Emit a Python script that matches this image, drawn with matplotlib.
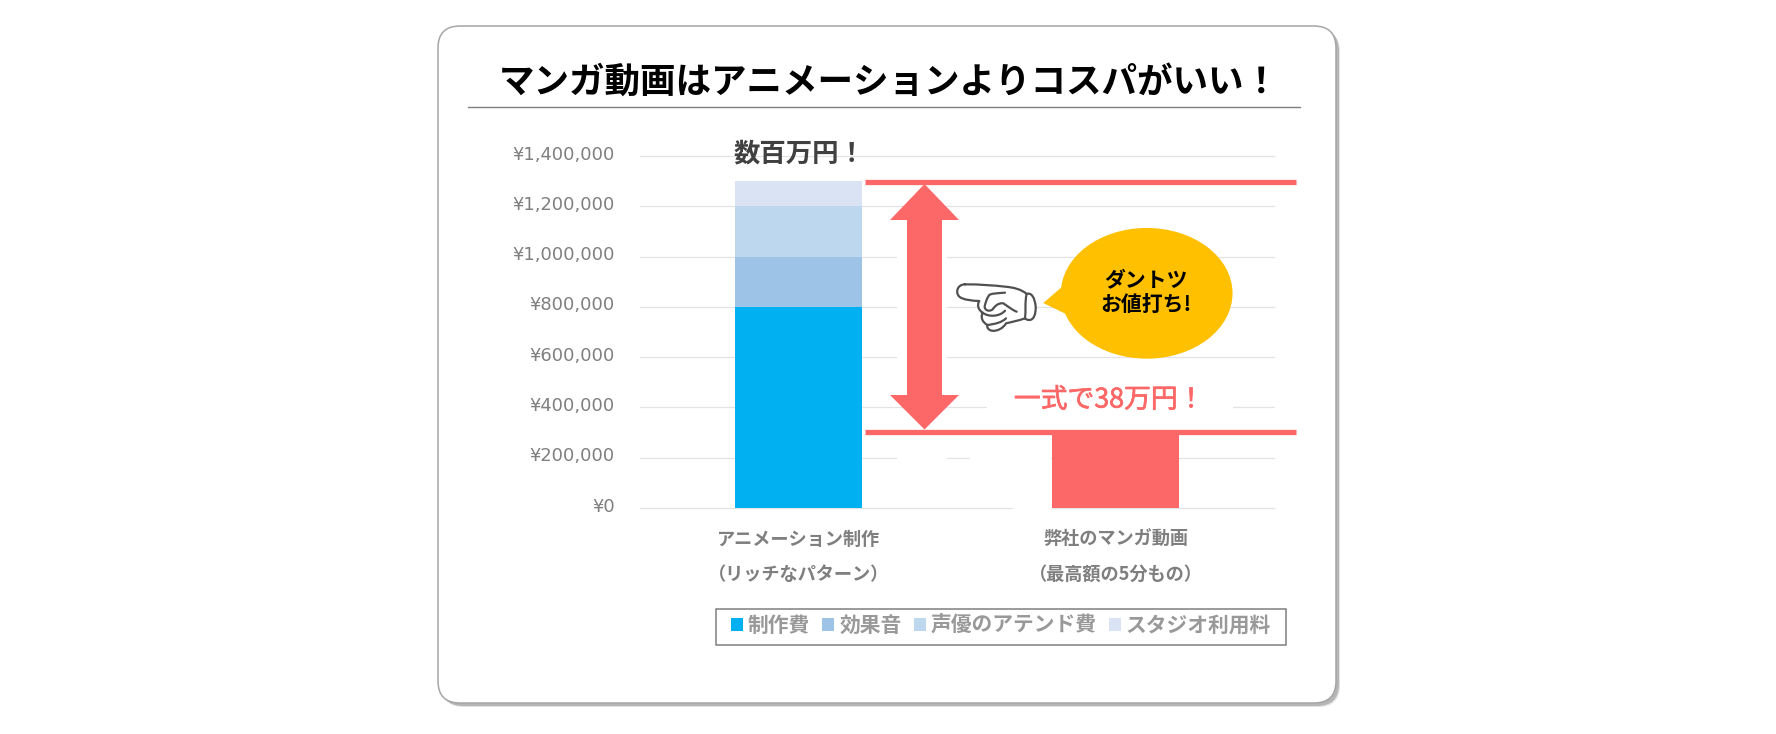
import matplotlib
matplotlib.use('Agg')
import matplotlib.pyplot as plt
import matplotlib.patheffects as pe
from matplotlib.patches import FancyBboxPatch, Polygon, Ellipse, Rectangle, PathPatch
from matplotlib.path import Path
from matplotlib.ticker import FuncFormatter
from matplotlib.transforms import ScaledTranslation

plt.rcParams['font.family'] = ['Noto Sans CJK JP', 'DejaVu Sans']

W, H = 1776, 734

categories = ['アニメーション制作\n（リッチなパターン）', '弊社のマンガ動画\n（最高額の5分もの）']
series_names = ['制作費', '効果音', '声優のアテンド費', 'スタジオ利用料']
production = [800000, 300000]
sound = [200000, 0]
voice = [200000, 0]
studio = [100000, 0]
y_ticks = [0, 200000, 400000, 600000, 800000, 1000000, 1200000, 1400000]
gap_levels = [1295000, 303000]

series = [production, sound, voice, studio]
colors = ['#00B0F0', '#9DC3E6', '#BDD7EE', '#DAE3F3']
red = '#FC6868'

fig = plt.figure(figsize=(W / 100, H / 100), dpi=100, facecolor='white')

# background layer in pixel coordinates: card and title
back = fig.add_axes([0, 0, 1, 1], zorder=0)
back.set_xlim(0, W)
back.set_ylim(H, 0)
back.axis('off')

# soft shadow, then the card
for off, col in [(4, '#e2e2e2'), (3, '#b5b5b5')]:
    back.add_patch(FancyBboxPatch((438 + off, 26 + off), 898, 677,
                                  boxstyle='round,pad=0,rounding_size=22',
                                  fc=col, ec='none'))
back.add_patch(FancyBboxPatch((438, 26), 898, 677,
                              boxstyle='round,pad=0,rounding_size=22',
                              fc='white', ec='#a6a6a6', lw=1.1))

back.text(889, 82, 'マンガ動画はアニメーションよりコスパがいい！', ha='center', va='center',
          fontsize=25.6, fontweight='bold', color='black')
back.plot([468, 1300], [106.7, 106.7], color='#7f7f7f', lw=1.0)
back.add_patch(Rectangle((716, 609), 570, 36, fc='white', ec='#7f7f7f', lw=1.1))

# chart
ax = fig.add_axes([640 / W, 1 - 508 / H, 634 / W, 352 / H], zorder=1)
ax.patch.set_alpha(0)

bottom = [0, 0]
handles = []
for vals, name, col in zip(series, series_names, colors):
    bars = ax.bar([0, 1], vals, 0.4, bottom=bottom, color=col, label=name, zorder=2)
    handles.append(bars[0])
    bottom = [b + v for b, v in zip(bottom, vals)]
ax.patches[1].set_facecolor(red)

ax.set_xlim(-0.5, 1.5)
ax.set_ylim(0, 1400000)
ax.set_yticks(y_ticks)
ax.yaxis.set_major_formatter(FuncFormatter(lambda v, p: '¥{:,}'.format(int(v))))
ax.set_xticks([0, 1])
ax.set_xticklabels(categories, fontsize=13.1, fontweight='bold', color='#7f7f7f', linespacing=2.04)
ax.tick_params(axis='y', length=0, pad=18)
ax.tick_params(axis='x', length=0, pad=16)
ax.grid(axis='y', color='#e3e3e3', lw=0.9, zorder=0)
for gl in ax.get_ygridlines():
    gl.set_clip_on(False)
ax.set_axisbelow(True)
for s in ax.spines.values():
    s.set_visible(False)

# y labels sit a little above their gridlines
lift = ScaledTranslation(0, 2.5 / 72, fig.dpi_scale_trans)
for lab in ax.get_yticklabels():
    lab.set_fontfamily('DejaVu Sans')
    lab.set_fontsize(12.9)
    lab.set_color('#7f7f7f')
    lab.set_transform(lab.get_transform() + lift)

ax.legend(handles, series_names, ncol=4, loc='center left',
          bbox_to_anchor=(731 / W, 1 - 625.5 / H), bbox_transform=fig.transFigure,
          borderaxespad=0, borderpad=0, frameon=False,
          prop={'size': 14.95, 'weight': 'bold'}, labelcolor='#999999',
          handlelength=0.58, handleheight=0.58, handletextpad=0.24,
          columnspacing=0.58)

# the two red levels sit on the chart's own scale
ax.hlines(gap_levels, 0.209, 1.57, color=red, lw=3.8, zorder=4, clip_on=False)

# annotation layer in pixel coordinates
over = fig.add_axes([0, 0, 1, 1], zorder=2)
over.set_xlim(0, W)
over.set_ylim(H, 0)
over.axis('off')
over.patch.set_alpha(0)

# white boxes that hid parts of the gridlines
for x0, y0, x1, y1 in [(897, 235, 947, 385), (897, 445, 947, 470), (970, 445, 1051, 470),
                       (1013, 500, 1051, 515)]:
    over.add_patch(Rectangle((x0, y0), x1 - x0, y1 - y0, fc='white', ec='none', zorder=1))

# double arrow
cx = 924.5
over.add_patch(Polygon([(cx, 184), (959, 220), (942, 220), (942, 395), (959, 395), (cx, 429.5),
                        (890, 395), (907, 395), (907, 220), (890, 220)],
                       fc=red, ec='none', zorder=3))

over.text(799, 154, '数百万円！', ha='center', va='center', fontsize=19,
          fontweight='bold', color='#404040', zorder=5)

# callout
over.add_patch(Ellipse((1146.7, 293.3), 171.7, 130.7, fc='#FFC000', ec='none', zorder=3))
over.add_patch(Polygon([(1043.3, 303), (1063, 286), (1070, 316)], fc='#FFC000', ec='none', zorder=3))
over.text(1146, 292.5, 'ダントツ\nお値打ち!', ha='center', va='center', fontsize=15,
          fontweight='bold', color='black', linespacing=1.3, zorder=5)

over.add_patch(Rectangle((987, 384), 246, 42, fc='white', ec='none', zorder=2))
over.text(1109, 400, '一式で38万円！', ha='center', va='center', fontsize=19.3, color=red,
          zorder=5, path_effects=[pe.withStroke(linewidth=0.5, foreground=red)])


# pointing glove
def hx(u):
    return 950 + u / 3


def hy(v):
    return 270 + v / 3


def stroke(points, fill=None):
    # first point moves, then cubic curves in threes
    pts = [(hx(u), hy(v)) for u, v in points]
    codes = [Path.MOVETO] + [Path.CURVE4] * (len(pts) - 1)
    fc = fill if fill else 'none'
    over.add_patch(PathPatch(Path(pts, codes), fc=fc, ec='#505050', lw=1.6,
                             capstyle='round', joinstyle='round', zorder=4))


stroke([(45, 43), (90, 43), (130, 46), (165, 50),
        (190, 52), (215, 58), (230, 72),
        (245, 66), (255, 85), (257, 110),
        (258, 130), (252, 150), (238, 150),
        (232, 150), (228, 148), (225, 145),
        (205, 152), (185, 156), (168, 160),
        (160, 175), (140, 185), (125, 182),
        (115, 180), (110, 172), (112, 165),
        (100, 158), (90, 145), (98, 128),
        (85, 120), (80, 105), (88, 93),
        (65, 92), (40, 90), (28, 80),
        (15, 68), (22, 43), (45, 43)], fill='white')
stroke([(165, 68), (140, 70), (125, 70), (118, 75),
        (110, 85), (108, 95), (105, 105),
        (100, 118), (115, 128), (128, 118),
        (135, 108), (145, 98), (160, 100),
        (175, 110), (190, 122), (200, 125)])
stroke([(98, 128), (115, 142), (150, 140), (165, 122)])
stroke([(112, 165), (135, 162), (155, 158), (168, 145)])
stroke([(230, 72), (224, 95), (228, 125), (225, 145)])

fig.savefig('out.png', dpi=100)
